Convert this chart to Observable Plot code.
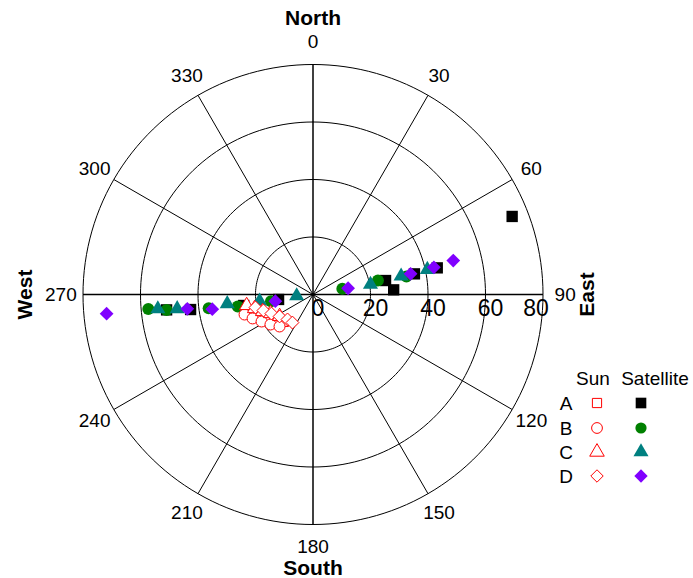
<!DOCTYPE html>
<html><head><meta charset="utf-8">
<script src="https://cdn.jsdelivr.net/npm/d3@7"></script>
<script src="https://cdn.jsdelivr.net/npm/@observablehq/plot@0.6"></script>
<style>
body{margin:0;background:#fff;}
#wrap{position:relative;width:693px;height:578px;font-family:"Liberation Sans",Arial,sans-serif;}
#wrap svg{display:block;}
#legend{position:absolute;left:0;top:0;pointer-events:none;}
</style></head><body><div id="wrap"></div>
<script>
// ---- data: [azimuth (deg, clockwise from North), radius] ----
const series = ["A", "B", "C", "D"];
const symbolNames = ["square", "circle", "triangle", "diamond2"];
const satColors = ["#000000", "#008000", "#008080", "#8000ff"];
const sunColor = "#ff0000";
const satA = [[68.6,74.4],[77.9,44.2],[78.5,36.0],[86.7,28.1],[79.1,25.7],[261.8,12.1],[261.0,24.4],[263.0,42.9],[264.0,51.2]];
const satB = [[265.0,57.5],[264.0,51.2],[262.5,36.6],[260.9,26.5],[260.9,14.8],[79.1,33.1],[77.8,23.1],[79.0,10.4]];
const satC = [[264.7,54.2],[264.0,47.5],[263.8,30.0],[262.8,18.7],[264.7,5.7],[77.7,40.7],[78.3,31.3],[80.1,20.3]];
const satD = [[264.7,72.1],[263.5,44.0],[261.7,35.4],[259.9,13.3],[76.4,50.2],[77.3,43.1],[78.0,34.7],[79.9,12.4]];
const sunA = [[254.8,22.5],[249.8,20.2],[243.7,18.0],[237.0,16.0],[227.5,13.9]];
const sunB = [[253.7,24.8],[248.4,22.6],[242.3,20.2],[234.8,18.1],[226.3,16.1]];
const sunC = [[260.6,23.4],[256.5,20.9],[251.4,18.5],[245.9,16.2],[236.7,13.9]];
const sunD = [[257.3,20.5],[252.1,18.1],[245.4,15.9],[236.7,13.9],[225.6,12.4],[216.2,12.1]];
const ringValues = [20, 40, 60, 80];
const spokeAngles = [0, 30, 60, 90, 120, 150, 180, 210, 240, 270, 300, 330];
const radialTicks = [0, 20, 40, 60, 80];
const cardinals = [
  {label: "North", az: 0, r: 96, rot: 0},
  {label: "South", az: 180, r: 95.2, rot: 0},
  {label: "East", az: 90, r: 95.5, rot: -90},
  {label: "West", az: 270, r: 100, rot: -90}
];

const satData = [satA, satB, satC, satD];
const sunData = [sunA, sunB, sunC, sunD];
const rMax = 80;
const rad = a => a * Math.PI / 180;
const px = (az, r) => r * Math.sin(rad(az));
const py = (az, r) => r * Math.cos(rad(az));

const ringPts = ringValues.flatMap(rv => d3.range(0, 361, 2).map(a => ({ring: rv, x: px(a, rv), y: py(a, rv)})));
const spokes = spokeAngles.map(a => ({a, x2: px(a, rMax), y2: py(a, rMax)}));

const satR = [6.4, 6.0, 5.6, 6.2];
const sunR = [5.6, 5.5, 5.3, 5.8];

const marks = [
  Plot.line(ringPts, {x: "x", y: "y", z: "ring", stroke: "black", strokeWidth: 1}),
  Plot.link(spokes, {x1: () => 0, y1: () => 0, x2: "x2", y2: "y2", stroke: "black",
    strokeWidth: d => (d.a % 90 === 0 ? 1.5 : 1)}),
  Plot.text(spokeAngles, {x: a => px(a, 87.7), y: a => py(a, 87.7), text: a => String(a),
    fontSize: 19, fill: "black"}),
  Plot.text(radialTicks.filter(t => t < 80), {x: t => t, y: () => 0, text: t => String(t), dx: 5, dy: 14,
    fontSize: 23, fill: "black", ariaLabel: "rlab"}),
  Plot.text(radialTicks.filter(t => t >= 80), {x: t => t, y: () => 0, text: t => String(t), dx: -7, dy: 14,
    fontSize: 23, fill: "black", ariaLabel: "rlab"}),
  Plot.text(cardinals.filter(c => c.rot === 0), {x: c => px(c.az, c.r), y: c => py(c.az, c.r), text: "label",
    fontSize: 21, fontWeight: "bold", fill: "black"}),
  Plot.text(cardinals.filter(c => c.rot !== 0), {x: c => px(c.az, c.r), y: c => py(c.az, c.r), text: "label",
    fontSize: 21, fontWeight: "bold", fill: "black", rotate: -90})
];
satData.forEach((arr, i) => {
  marks.push(Plot.dot(arr, {x: d => px(d[0], d[1]), y: d => py(d[0], d[1]), symbol: () => symbolNames[i],
    fill: satColors[i], stroke: "none", r: satR[i]}));
});
sunData.forEach((arr, i) => {
  marks.push(Plot.dot(arr, {x: d => px(d[0], d[1]), y: d => py(d[0], d[1]), symbol: () => symbolNames[i],
    fill: "white", stroke: sunColor, strokeWidth: 1, r: sunR[i]}));
});

const plot = Plot.plot({
  width: 693, height: 578,
  marginTop: 0, marginBottom: 0, marginLeft: 0, marginRight: 0,
  x: {domain: [-rMax, rMax], range: [82.5, 542.5], axis: null},
  y: {domain: [-rMax, rMax], range: [524, 64], axis: null},
  symbol: {type: "identity"},
  style: {fontFamily: '"Liberation Sans", Arial, sans-serif', background: "white", color: "black", overflow: "visible"},
  marks
});
const wrap = document.getElementById("wrap");
wrap.appendChild(plot);

// stretch radial tick labels vertically (as in the reference)
plot.querySelectorAll('g[aria-label="rlab"] text').forEach(t => {
  const tr = t.getAttribute("transform");
  if (tr) t.setAttribute("transform", tr + " scale(1,1.3)");
  else {
    const x = t.getAttribute("x") || 0, y = t.getAttribute("y") || 0;
    t.removeAttribute("x"); t.removeAttribute("y");
    t.setAttribute("transform", `translate(${x},${y}) scale(1,1.3)`);
  }
});

// ---- legend ----
const d3Symbols = [d3.symbolSquare, d3.symbolCircle, d3.symbolTriangle, d3.symbolDiamond2];
const legSat = [6.0, 5.6, 5.6, 6.0];
const legSun = [5.2, 5.4, 5.4, 5.6];
const leg = d3.select(wrap).append("svg").attr("id", "legend").attr("width", 693).attr("height", 578)
  .style("font-family", '"Liberation Sans", Arial, sans-serif').style("font-size", "19px");
leg.append("text").attr("x", 593).attr("y", 378).attr("dy", "0.35em").attr("text-anchor", "middle").text("Sun");
leg.append("text").attr("x", 655).attr("y", 378).attr("dy", "0.35em").attr("text-anchor", "middle").text("Satellite");
const rowY = [403, 428, 452, 476];
series.forEach((s, i) => {
  leg.append("text").attr("x", 566).attr("y", rowY[i]).attr("dy", "0.35em").attr("text-anchor", "middle").text(s);
  leg.append("path").attr("transform", `translate(597,${rowY[i]})`)
    .attr("d", d3.symbol(d3Symbols[i], Math.PI * legSun[i] * legSun[i])())
    .attr("fill", "white").attr("stroke", sunColor).attr("stroke-width", 1);
  leg.append("path").attr("transform", `translate(641,${rowY[i]})`)
    .attr("d", d3.symbol(d3Symbols[i], Math.PI * legSat[i] * legSat[i])())
    .attr("fill", satColors[i]);
});
</script></body></html>
